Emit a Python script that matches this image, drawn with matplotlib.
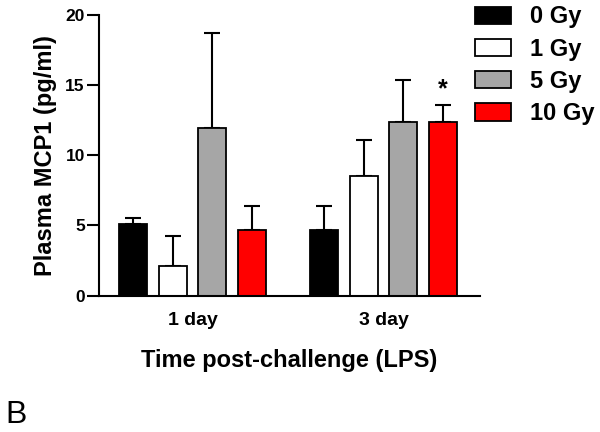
import matplotlib
matplotlib.use('Agg')
import matplotlib.pyplot as plt
import numpy as np
from matplotlib.patches import Patch

plt.rcParams['font.family'] = ['Liberation Sans', 'DejaVu Sans']

# data
groups = ["1 day", "3 day"]
doses = ["0 Gy", "1 Gy", "5 Gy", "10 Gy"]
colors = ["#000000", "#ffffff", "#a6a6a6", "#ff0000"]
means = {
    "0 Gy": [5.1, 4.7],
    "1 Gy": [2.1, 8.5],
    "5 Gy": [11.9, 12.35],
    "10 Gy": [4.7, 12.35],
}
errs = {
    "0 Gy": [0.45, 1.65],
    "1 Gy": [2.15, 2.55],
    "5 Gy": [6.8, 3.0],
    "10 Gy": [1.65, 1.25],
}

fig = plt.figure(figsize=(6, 4.32), dpi=100)
ax = fig.add_axes([0.1645, 0.3155, 0.8 - 0.1645, 0.966 - 0.3155])

x = np.arange(len(groups))
step = 0.207
width = 0.147
for i, d in enumerate(doses):
    pos = x + (i - 1.5) * step
    ax.bar(pos, means[d], width, color=colors[i], edgecolor='black', linewidth=1.3, zorder=2)
    ax.errorbar(pos, means[d], yerr=[np.zeros(len(groups)), errs[d]], fmt='none',
                ecolor='black', elinewidth=1.5, capsize=5.5, capthick=1.5, zorder=1)

# significance marker
star_x = x[1] + 1.5 * step
ax.text(star_x, means["10 Gy"][1] + errs["10 Gy"][1] + 0.25, "*", ha='center', va='bottom',
        fontsize=18, fontweight='bold')

ax.set_xlim(-0.491, 1.505)
ax.set_ylim(0, 20)
ax.set_yticks([0, 5, 10, 15, 20])
ax.set_xticks(x)
ax.set_xticklabels(groups, fontsize=14, fontweight='bold')
ax.tick_params(axis='x', length=0, pad=12)
ax.tick_params(axis='y', length=9, width=1.5, labelsize=12.5, pad=1)
for lab in ax.get_yticklabels():
    lab.set_fontweight('bold')
ax.spines['top'].set_visible(False)
ax.spines['right'].set_visible(False)
ax.spines['left'].set_linewidth(1.5)
ax.spines['bottom'].set_linewidth(1.5)

ax.set_ylabel("Plasma MCP1 (pg/ml)", fontsize=17, fontweight='bold', labelpad=6)
ax.set_xlabel("Time post-challenge (LPS)", fontsize=17, fontweight='bold', labelpad=14)

handles = [Patch(facecolor=c, edgecolor='black', linewidth=1.3) for c in colors]
fig.legend(handles, doses, loc='upper left', bbox_to_anchor=(475 / 600, 1 - 5.5 / 432),
           frameon=False, borderpad=0, borderaxespad=0,
           prop={'size': 17, 'weight': 'bold'}, handlelength=1.53, handleheight=0.75,
           labelspacing=0.39, handletextpad=0.8)

fig.text(5 / 600, 1 - 423 / 432, "B", fontsize=23)

fig.savefig("out.png", dpi=100)
